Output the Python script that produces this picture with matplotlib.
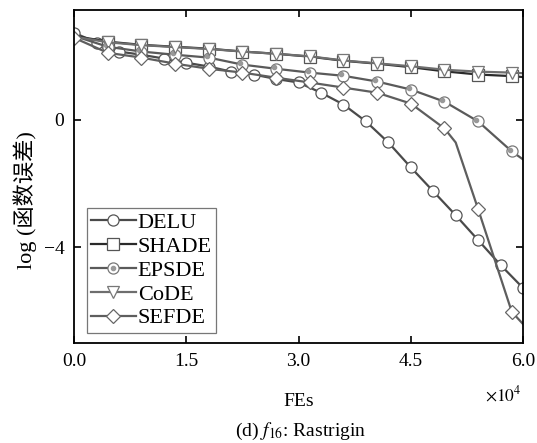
import numpy as np
import matplotlib.pyplot as plt
from matplotlib.lines import Line2D

plt.rcParams['font.family'] = ['Liberation Serif', 'Noto Sans CJK SC']
plt.rcParams['mathtext.fontset'] = 'stix'

# FEs (x10^4)
x_delu = [0.0, 0.3, 0.6, 0.9, 1.2, 1.5, 1.8, 2.1, 2.4, 2.7, 3.0, 3.3, 3.6, 3.9,
          4.2, 4.5, 4.8, 5.1, 5.4, 5.7, 6.0]
delu = [2.72, 2.41, 2.13, 2.03, 1.91, 1.78, 1.66, 1.50, 1.41, 1.27, 1.16, 0.84,
        0.47, -0.06, -0.72, -1.50, -2.25, -3.00, -3.78, -4.56, -5.28]

x_grid = [0.0, 0.45, 0.9, 1.35, 1.8, 2.25, 2.7, 3.15, 3.6, 4.05, 4.5, 4.95,
          5.4, 5.85, 6.0]
shade = [2.62, 2.44, 2.34, 2.28, 2.22, 2.13, 2.06, 1.97, 1.84, 1.75, 1.64,
         1.51, 1.41, 1.36, 1.33]
code = [2.60, 2.42, 2.33, 2.27, 2.21, 2.13, 2.06, 1.98, 1.85, 1.76, 1.67,
        1.56, 1.50, 1.47, 1.45]
epsde = [2.62, 2.28, 2.13, 2.03, 1.94, 1.72, 1.59, 1.47, 1.37, 1.19, 0.94,
         0.56, -0.06, -1.00, -1.25]

x_sefde = [0.0, 0.45, 0.9, 1.35, 1.8, 2.25, 2.7, 3.15, 3.6, 4.05, 4.5, 4.95,
           5.1, 5.4, 5.85, 6.0]
sefde = [2.56, 2.09, 1.94, 1.75, 1.59, 1.47, 1.31, 1.16, 1.00, 0.84, 0.50,
         -0.28, -0.72, -2.81, -6.03, -6.41]

fig = plt.figure(figsize=(5.37, 4.43), dpi=100)
ax = fig.add_axes([0.138, 0.226, 0.836, 0.752])

ms = 8
mk = dict(markerfacecolor='white', markersize=ms, markeredgewidth=0.9)

ax.plot(x_delu, delu, color='#4a4a4a', lw=1.6, marker='o',
        markeredgecolor='#555555', **mk)
ax.plot(x_grid, shade, color='#2a2a2a', lw=1.6, marker='s',
        markeredgecolor='#555555', markevery=list(range(1, 14)), **mk)
ax.plot(x_grid, epsde, color='#5a5a5a', lw=1.6, marker='o',
        markeredgecolor='#777777', markevery=list(range(1, 14)), **mk)
ax.plot(np.array(x_grid[1:14]) - 0.03, np.array(epsde[1:14]) + 0.05,
        ls='none', marker='o', markersize=3, color='#999999')
ax.plot(x_grid, code, color='#6e6e6e', lw=1.6, marker='v',
        markeredgecolor='#777777', markevery=list(range(1, 14)), **mk)
sefde_marks = [i for i in range(len(x_sefde)) if x_sefde[i] not in (5.1, 6.0)]
ax.plot(x_sefde, sefde, color='#5e5e5e', lw=1.6, marker='D',
        markeredgecolor='#666666', markevery=sefde_marks,
        markerfacecolor='white', markersize=7, markeredgewidth=0.9)

ax.set_xlim(0, 6)
ax.set_ylim(-7, 3.44)
ax.set_xticks([0, 1.5, 3, 4.5, 6])
ax.set_xticklabels(['0.0', '1.5', '3.0', '4.5', '6.0'])
ax.set_yticks([0, -4])
ax.tick_params(direction='in', top=True, right=True, length=5, width=1.2,
               labelsize=14, pad=7)
for s in ax.spines.values():
    s.set_linewidth(1.3)

ax.set_xlabel('FEs', fontsize=14, labelpad=17)
ax.set_ylabel('log (函数误差)', fontsize=16)
ax.yaxis.set_label_coords(-0.083, 0.43)
fig.text(0.972, 0.108, r'$\times 10^4$', fontsize=12.5, ha='right', va='center')
fig.text(0.56, 0.025, r'(d) $f_{16}$: Rastrigin', fontsize=14, ha='center',
         va='center')

h_delu = Line2D([], [], color='#4a4a4a', lw=1.6, marker='o',
                markeredgecolor='#555555', **mk)
h_shade = Line2D([], [], color='#2a2a2a', lw=1.6, marker='s',
                 markeredgecolor='#555555', **mk)
h_eps1 = Line2D([], [], color='#5a5a5a', lw=1.6, marker='o',
                markeredgecolor='#777777', **mk)
h_eps2 = Line2D([], [], ls='none', marker='o', markersize=3, color='#999999')
h_code = Line2D([], [], color='#6e6e6e', lw=1.6, marker='v',
                markeredgecolor='#777777', **mk)
h_sefde = Line2D([], [], color='#5e5e5e', lw=1.6, marker='D',
                 markeredgecolor='#666666', markerfacecolor='white',
                 markersize=7, markeredgewidth=0.9)
leg = ax.legend([h_delu, h_shade, (h_eps1, h_eps2), h_code, h_sefde],
                ['DELU', 'SHADE', 'EPSDE', 'CoDE', 'SEFDE'],
                loc='lower left', bbox_to_anchor=(0.028, 0.03), fontsize=16,
                handlelength=2.0, handletextpad=0.1, labelspacing=0.15,
                borderpad=0.2, borderaxespad=0, fancybox=False,
                edgecolor='#777777', framealpha=1)
leg.get_frame().set_linewidth(0.9)

fig.savefig('out.png', dpi=100)
